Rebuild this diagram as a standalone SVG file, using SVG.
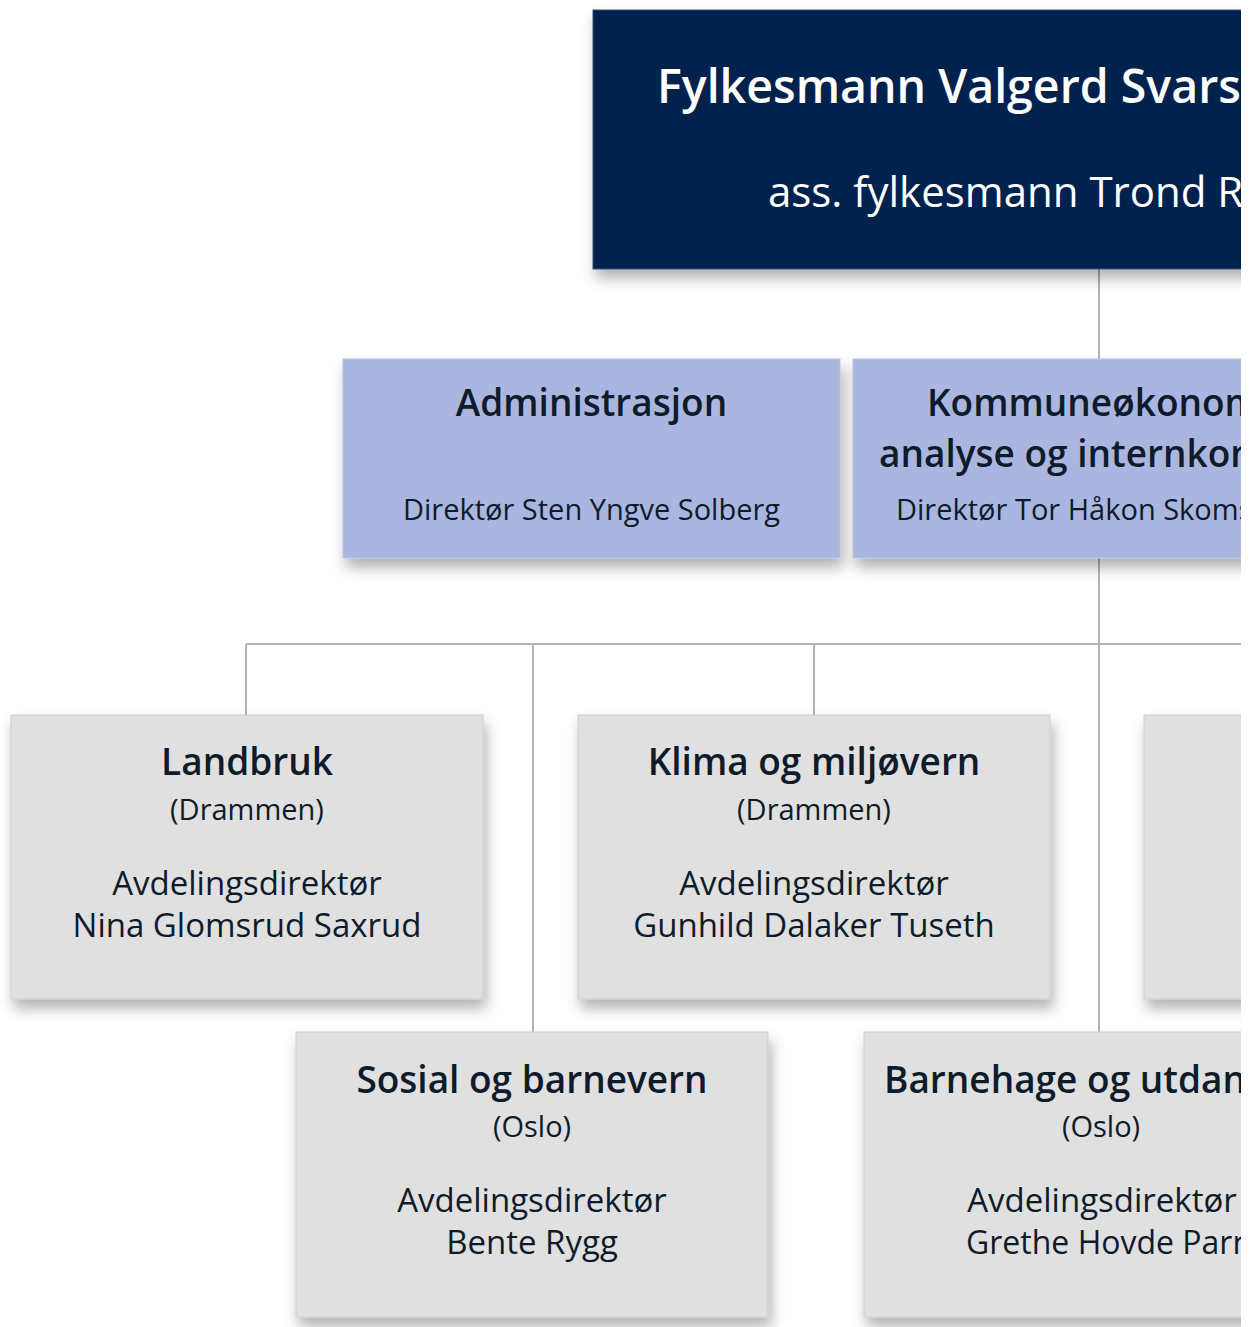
<svg xmlns="http://www.w3.org/2000/svg" width="1254" height="1327" viewBox="0 0 1254 1327">
<style>
.t{font-family:"Open Sans","DejaVu Sans",sans-serif;fill:#0e1b2b}
.h{font-weight:600;font-size:37px}
.s{font-size:29px}
.p{font-size:33px}
.m{font-size:29px}
.top1{font-family:"Open Sans","DejaVu Sans",sans-serif;font-weight:600;font-size:46.5px;fill:#ffffff}
.top2{font-family:"Open Sans","DejaVu Sans",sans-serif;font-size:42px;fill:#ffffff}
.navy{fill:#03234d;stroke:#3a4f6e;stroke-width:1}
.blue{fill:#aab6df;stroke:#b9c2e4;stroke-width:1}
.grey{fill:#e0e0e0;stroke:#cbcbcb;stroke-width:1}
.c{stroke:#b3b3b3;stroke-width:2;fill:none}
</style>
<defs>
<filter id="sh" x="-10%" y="-10%" width="125%" height="140%">
<feDropShadow dx="3" dy="9" stdDeviation="7" flood-color="#000" flood-opacity="0.3"/>
</filter>
<clipPath id="clip"><rect x="0" y="0" width="1241" height="1327"/></clipPath>
</defs>
<rect width="1254" height="1327" fill="#ffffff"/>
<g clip-path="url(#clip)">
<g id="connectors">
<line class="c" x1="1099" y1="269" x2="1099" y2="1032"/>
<line class="c" x1="246" y1="644" x2="1380" y2="644"/>
<line class="c" x1="246" y1="644" x2="246" y2="715"/>
<line class="c" x1="533" y1="644" x2="533" y2="1032"/>
<line class="c" x1="814" y1="644" x2="814" y2="715"/>
<line class="c" x1="1380" y1="644" x2="1380" y2="715"/>
</g>
<g id="fylkesmann">
<rect class="navy" x="593" y="10" width="1013" height="259" filter="url(#sh)"/>
<text class="top1" x="657" y="103">Fylkesmann Valgerd Svars</text>
<text class="top2" x="768" y="207">ass. fylkesmann Trond R</text>
</g>
<g id="administrasjon">
<rect class="blue" x="343" y="359" width="497" height="199" filter="url(#sh)"/>
<text class="t h" x="591.5" y="416" text-anchor="middle">Administrasjon</text>
<text class="t m" x="591.5" y="520" text-anchor="middle">Direktør Sten Yngve Solberg</text>
</g>
<g id="kommuneokonomi">
<rect class="blue" x="853" y="359" width="497" height="199" filter="url(#sh)"/>
<text class="t h" x="927" y="416">Kommuneøkonom</text>
<text class="t h" x="879" y="467">analyse og internkon</text>
<text class="t m" x="896" y="520">Direktør Tor Håkon Skoms</text>
</g>
<g id="landbruk">
<rect class="grey" x="11" y="715" width="472" height="284" filter="url(#sh)"/>
<text class="t h" x="247" y="775" text-anchor="middle">Landbruk</text>
<text class="t s" x="247" y="820" text-anchor="middle">(Drammen)</text>
<text class="t p" x="247" y="895" text-anchor="middle">Avdelingsdirektør</text>
<text class="t p" x="247" y="937" text-anchor="middle">Nina Glomsrud Saxrud</text>
</g>
<g id="klima">
<rect class="grey" x="578" y="715" width="472" height="284" filter="url(#sh)"/>
<text class="t h" x="814" y="775" text-anchor="middle">Klima og miljøvern</text>
<text class="t s" x="814" y="820" text-anchor="middle">(Drammen)</text>
<text class="t p" x="814" y="895" text-anchor="middle">Avdelingsdirektør</text>
<text class="t p" x="814" y="937" text-anchor="middle">Gunhild Dalaker Tuseth</text>
</g>
<g id="avdeling5">
<rect class="grey" x="1144" y="715" width="472" height="284" filter="url(#sh)"/>
</g>
<g id="sosial">
<rect class="grey" x="296" y="1032" width="472" height="285" filter="url(#sh)"/>
<text class="t h" x="532" y="1093" text-anchor="middle">Sosial og barnevern</text>
<text class="t s" x="532" y="1137" text-anchor="middle">(Oslo)</text>
<text class="t p" x="532" y="1212" text-anchor="middle">Avdelingsdirektør</text>
<text class="t p" x="532" y="1254" text-anchor="middle">Bente Rygg</text>
</g>
<g id="barnehage">
<rect class="grey" x="864" y="1032" width="472" height="285" filter="url(#sh)"/>
<text class="t h" x="884" y="1093">Barnehage og utdan</text>
<text class="t s" x="1101" y="1137" text-anchor="middle">(Oslo)</text>
<text class="t p" x="1102" y="1212" text-anchor="middle">Avdelingsdirektør</text>
<text class="t p" x="966" y="1254" style="font-size:32px">Grethe Hovde Parr</text>
</g>
</g>
</svg>
